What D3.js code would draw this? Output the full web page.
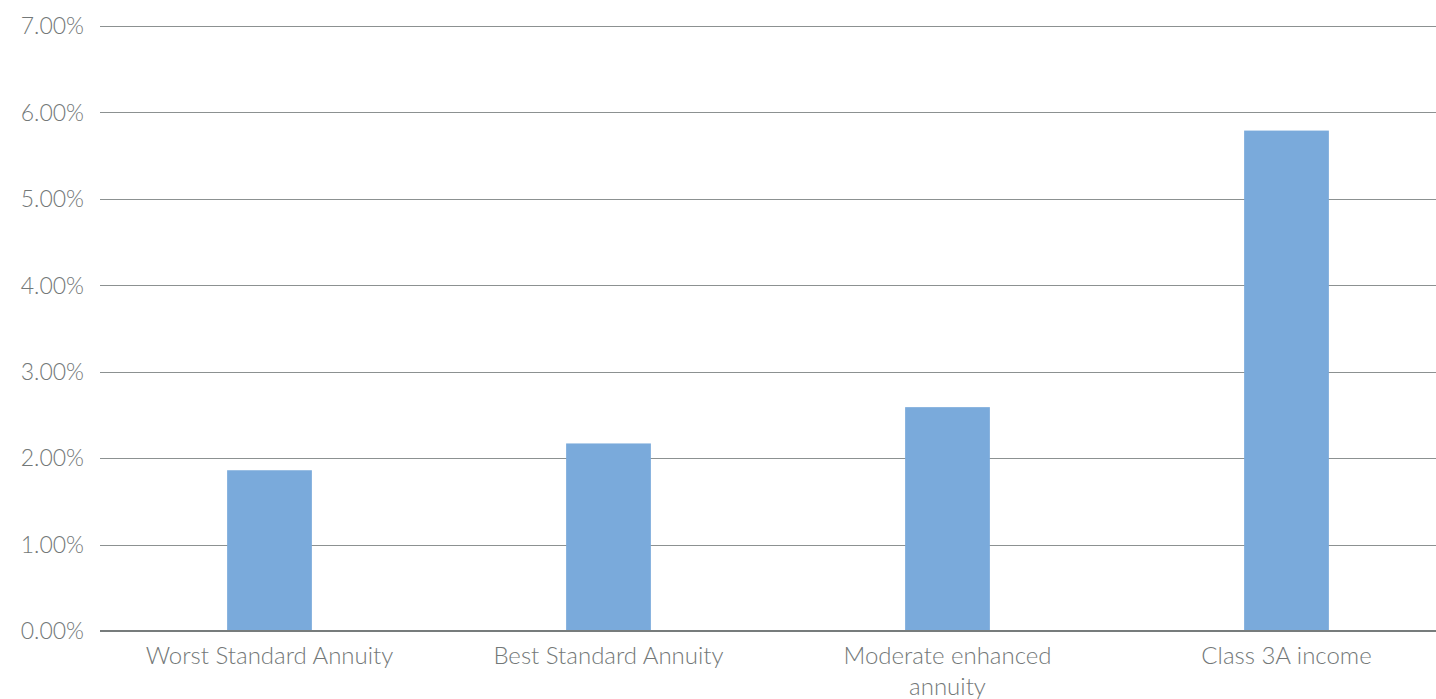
<!DOCTYPE html>
<html>
<head>
<meta charset="utf-8">
<script src="https://cdn.jsdelivr.net/npm/d3@7"></script>
<style>
  html, body { margin: 0; padding: 0; background: #ffffff; overflow: hidden; }
  svg { display: block; }
  text { font-family: Lato, "Open Sans", sans-serif; font-weight: 300; fill: #737878; }
</style>
</head>
<body>
<svg id="chart" width="1436" height="699"></svg>
<script>
const categories = ["Worst Standard Annuity", "Best Standard Annuity", "Moderate enhanced annuity", "Class 3A income"];
const values = [1.86, 2.17, 2.59, 5.79];
const yTicks = [0, 1, 2, 3, 4, 5, 6, 7];

const W = 1436, H = 699;
const margin = { top: 26, right: -20, bottom: 68, left: 100 };
const FONT = "Lato, 'Open Sans', sans-serif";
const svg = d3.select("#chart");

const x = d3.scaleBand()
  .domain(categories)
  .range([margin.left, W - margin.right])
  .paddingInner(0.75)
  .paddingOuter(0.375);

const y = d3.scaleLinear()
  .domain([0, 7])
  .range([H - margin.bottom, margin.top]);

// gridlines
svg.append("g")
  .selectAll("line")
  .data(yTicks.filter(d => d !== 0))
  .join("line")
  .attr("x1", margin.left)
  .attr("x2", W)
  .attr("y1", d => Math.round(y(d)) + 0.5)
  .attr("y2", d => Math.round(y(d)) + 0.5)
  .attr("stroke", "#8c9191")
  .attr("stroke-width", 1);

// y axis labels
const yAxis = d3.axisLeft(y)
  .tickValues(yTicks)
  .tickFormat(d => d3.format(".2f")(d) + "%")
  .tickSize(0)
  .tickPadding(16);

const gy = svg.append("g")
  .attr("transform", `translate(${margin.left},0)`)
  .call(yAxis);
gy.select(".domain").remove();
gy.selectAll("text")
  .style("font-family", FONT)
  .style("font-weight", 300)
  .style("font-size", "23px")
  .attr("fill", "#737878")
  .attr("dy", "0.34em");

// bars
svg.append("g")
  .selectAll("rect")
  .data(categories)
  .join("rect")
  .attr("x", d => x(d))
  .attr("width", x.bandwidth())
  .attr("y", (d, i) => y(values[i]))
  .attr("height", (d, i) => y(0) - y(values[i]))
  .attr("fill", "#7aaadb");

// baseline
svg.append("line")
  .attr("x1", margin.left)
  .attr("x2", W)
  .attr("y1", y(0))
  .attr("y2", y(0))
  .attr("stroke", "#777c7c")
  .attr("stroke-width", 2);

// x axis labels
const xAxis = d3.axisBottom(x).tickSize(0).tickPadding(16);
const gx = svg.append("g")
  .attr("transform", `translate(0,${y(0)})`)
  .call(xAxis);
gx.select(".domain").remove();
gx.selectAll("text")
  .style("font-family", FONT)
  .style("font-weight", 300)
  .style("font-size", "24px")
  .attr("fill", "#737878")
  .call(wrap, 270);

function wrap(sel, width) {
  sel.each(function () {
    const text = d3.select(this);
    const words = text.text().split(/\s+/);
    const yAttr = text.attr("y");
    const dy = parseFloat(text.attr("dy")) || 0;
    text.text(null);
    let line = [];
    let lineNo = 0;
    let tspan = text.append("tspan").attr("x", 0).attr("y", yAttr).attr("dy", dy + "em");
    for (const w of words) {
      line.push(w);
      tspan.text(line.join(" "));
      if (tspan.node().getComputedTextLength() > width && line.length > 1) {
        line.pop();
        tspan.text(line.join(" "));
        line = [w];
        lineNo++;
        tspan = text.append("tspan").attr("x", 0).attr("y", yAttr)
          .attr("dy", (lineNo * 1.3 + dy) + "em").text(w);
      }
    }
  });
}
</script>
</body>
</html>
